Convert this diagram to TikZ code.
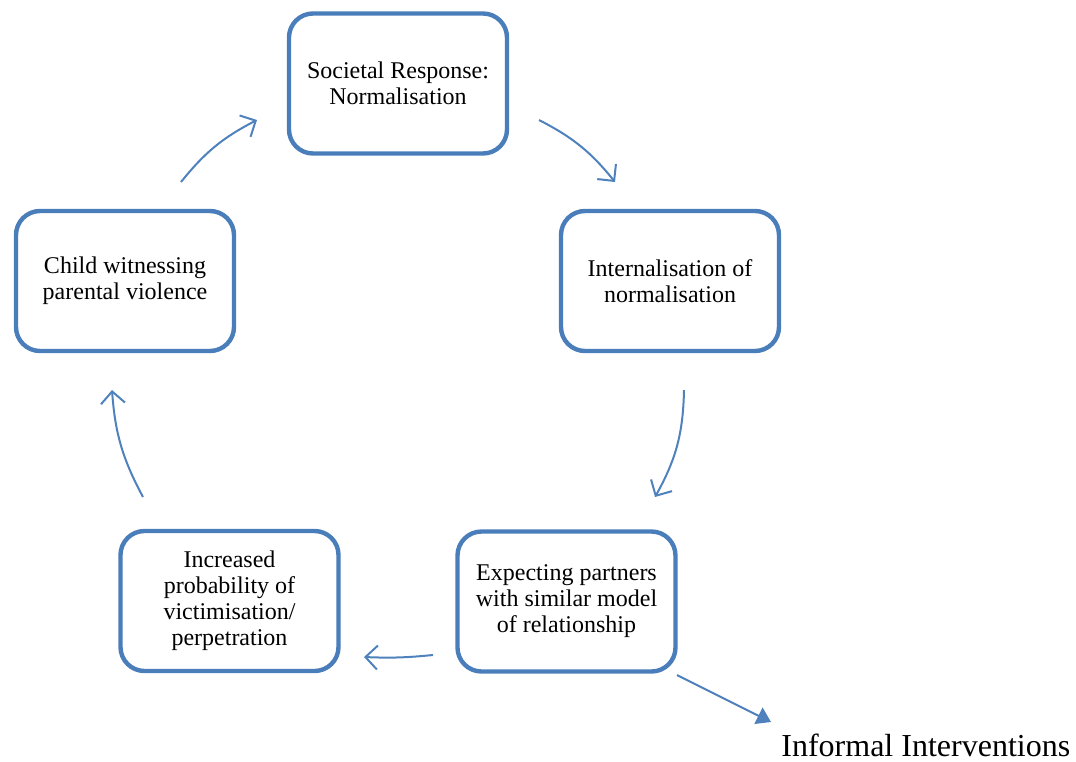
\documentclass[tikz,border=0pt]{standalone}
\usepackage{fontspec}
\setmainfont{Liberation Serif}
\usetikzlibrary{arrows.meta}
\definecolor{boxblue}{HTML}{4A7EBB}
\definecolor{arrblue}{HTML}{4F81BD}
\tikzset{
  stage/.style={draw=boxblue, line width=2.2pt, rounded corners=12pt, fill=white,
    minimum width=109pt, minimum height=70pt, align=center,
    font=\fontsize{12}{13}\selectfont, inner sep=2pt},
  flow/.style={draw=arrblue, line width=1pt, -{Straight Barb[length=6pt,width=12pt,line width=1pt]}},
  outflow/.style={draw=arrblue, line width=1pt, -{Triangle[length=7pt,width=9pt]}}
}
\begin{document}
\begin{tikzpicture}[x=0.5pt,y=-0.5pt]
\useasboundingbox (0,0) rectangle (1076,761);
\node[stage] (soc) at (398,83.5) {Societal Response:\\Normalisation};
\node[stage] (int) at (670,281) {Internalisation of\\normalisation};
\node[stage] (exp) at (566.5,601.5) {Expecting partners\\with similar model\\of relationship};
\node[stage] (inc) at (229.5,601) {Increased\\probability of\\victimisation/\\perpetration};
\node[stage] (chi) at (125,281) {Child witnessing\\parental violence};
\node[anchor=west, font=\fontsize{16}{18}\selectfont, inner sep=0pt] (inf) at (781,745) {Informal Interventions};
\coordinate (a1s) at (181,182); \coordinate (a1e) at (257,120);
\coordinate (a2s) at (539,120); \coordinate (a2e) at (615,182);
\coordinate (a3s) at (684,390); \coordinate (a3e) at (655,497);
\coordinate (a4s) at (433,655); \coordinate (a4e) at (364,657);
\coordinate (a5s) at (143,497); \coordinate (a5e) at (112,390);
\coordinate (a6s) at (677,675); \coordinate (a6e) at (771,722);
\draw[flow] (a1s) to[bend left=12] (a1e);
\draw[flow] (a2s) to[bend left=12] (a2e);
\draw[flow] (a3s) to[bend left=14] (a3e);
\draw[flow] (a4s) to[bend left=4] (a4e);
\draw[flow] (a5s) to[bend left=12] (a5e);
\draw[outflow] (a6s) -- (a6e);
\end{tikzpicture}
\end{document}
